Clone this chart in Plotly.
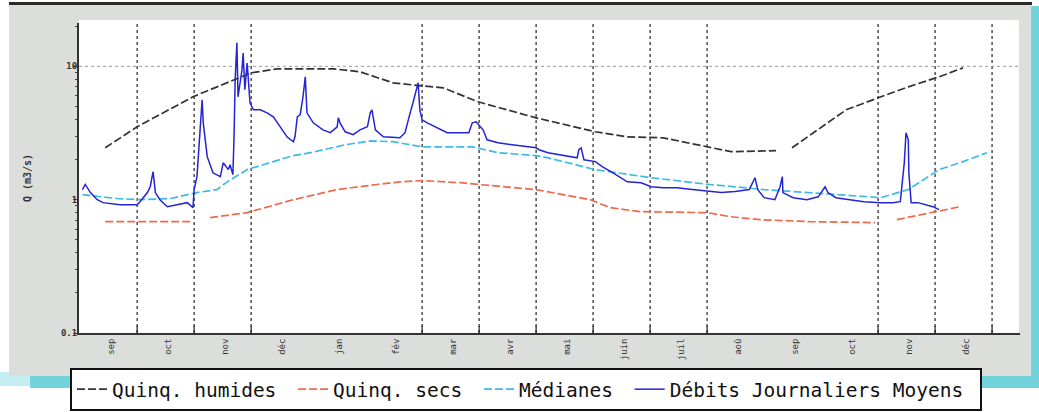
import plotly.graph_objects as go

# ---------------- data ----------------
MONTHS = ["sep", "oct", "nov", "déc", "jan", "fév", "mar", "avr",
          "mai", "juin", "juil", "aoû", "sep", "oct", "nov", "déc"]
GRID_MONTHS = [1, 2, 3, 6, 7, 8, 9, 10, 11, 14, 15, 16]   # month boundaries with a grid line
Y_TICKS = [0.1, 1, 10]
Y_TICKTEXT = ["0.1", "1", "10"]
Y_GRID = [10]

# x positions are in months from the start of the first September
HUM_X = [0.44, 1.00, 1.98, 2.68, 3.00, 3.46, 4.44, 4.91, 5.49, 6.00, 6.37, 6.98, 8.00,
         9.04, 9.60, 10.23, 11.04, 11.42, 12.21, 12.35, 12.49, 12.95, 13.44, 14.05,
         14.53, 15.07, 15.49]
HUM_Y = [2.45, 3.52, 5.91, 7.92, 8.94, 9.58, 9.58, 9.10, 7.52, 7.14, 6.90, 5.42, 4.11,
         3.23, 2.96, 2.91, 2.49, 2.29, 2.33, None, 2.45, 3.34, 4.72, 5.91,
         7.02, 8.34, 9.74]

SEC_X = [0.44, 1.93, 2.10, 2.28, 2.93, 3.74, 4.51, 5.21, 5.61, 6.00, 6.67, 6.98, 8.00,
         8.95, 9.30, 9.82, 11.00, 11.40, 11.93, 12.81, 13.95, 14.14, 14.33, 15.00, 15.44]
SEC_Y = [0.684, 0.684, None, 0.733, 0.799, 1.0, 1.19, 1.30, 1.36, 1.39, 1.34, 1.30, 1.19,
         1.0, 0.871, 0.813, 0.799, 0.746, 0.708, 0.684, 0.673, None, 0.708, 0.813, 0.886]

MED_X = [0.04, 0.35, 0.65, 1.05, 1.58, 2.05, 2.40, 2.58, 2.93, 3.39, 3.74, 4.04, 4.33,
         4.65, 5.09, 5.49, 6.00, 6.88, 7.33, 8.00, 8.21, 9.04, 10.02, 11.04, 12.00,
         13.26, 14.05, 14.53, 15.07, 15.49, 15.91]
MED_Y = [1.09, 1.05, 1.02, 1.00, 1.02, 1.13, 1.19, 1.36, 1.68, 1.93, 2.14, 2.25, 2.41,
         2.58, 2.76, 2.72, 2.49, 2.49, 2.25, 2.14, 2.06, 1.68, 1.46, 1.30, 1.19,
         1.09, 1.035, 1.19, 1.68, 1.93, 2.25]

DEB_X = [0.04, 0.09, 0.18, 0.30, 0.40, 0.70, 1.00, 1.05, 1.18, 1.23, 1.28, 1.32, 1.40,
         1.53, 1.70, 1.88, 1.98, 2.00, 2.05, 2.09, 2.14, 2.16, 2.23, 2.33, 2.46, 2.51,
         2.60, 2.63, 2.68, 2.70, 2.72, 2.75, 2.77, 2.84, 2.86, 2.89, 2.93, 2.98, 3.04,
         3.16, 3.28, 3.39, 3.51, 3.63, 3.74, 3.77, 3.81, 3.86, 3.91, 3.95, 3.98, 4.09,
         4.26, 4.39, 4.51, 4.53, 4.56, 4.65, 4.79, 4.91, 5.04, 5.09, 5.12, 5.18, 5.32,
         5.49, 5.61, 5.70, 5.74, 5.79, 5.84, 5.91, 5.93, 5.96, 6.00, 6.09, 6.26, 6.44,
         6.67, 6.82, 6.88, 6.95, 7.02, 7.07, 7.14, 7.33, 7.58, 8.00, 8.05, 8.21, 8.72,
         8.75, 8.79, 8.84, 9.04, 9.16, 9.35, 9.60, 9.84, 10.02, 10.23, 10.47, 10.74,
         11.04, 11.25, 11.49, 11.74, 11.84, 11.89, 12.00, 12.19, 12.28, 12.32, 12.33,
         12.51, 12.75, 12.95, 13.07, 13.12, 13.26, 13.51, 13.75, 14.05, 14.26, 14.39,
         14.46, 14.49, 14.53, 14.54, 14.58, 14.70, 14.96, 15.07]
DEB_Y = [1.19, 1.30, 1.13, 1.0, 0.95, 0.917, 0.917, 0.966, 1.13, 1.25, 1.62, 1.13, 1.0,
         0.886, 0.917, 0.95, 0.871, 1.19, 1.49, 2.81, 5.61, 3.77, 2.10, 1.59, 1.49, 1.89,
         1.68, 1.83, 1.54, 2.96, 7.92, 15.0, 5.91, 9.42, 12.6, 6.67, 10.6, 5.33, 4.72,
         4.72, 4.48, 4.18, 3.52, 2.96, 2.72, 2.96, 4.18, 4.33, 5.91, 8.34, 4.48, 3.77,
         3.34, 3.18, 3.52, 4.11, 3.77, 3.23, 3.07, 3.34, 3.52, 4.48, 4.72, 3.34, 2.96,
         2.91, 2.91, 3.18, 3.77, 4.48, 5.33, 7.02, 7.52, 4.72, 3.97, 3.77, 3.46, 3.18,
         3.18, 3.18, 3.77, 3.84, 3.52, 3.34, 2.81, 2.67, 2.58, 2.45, 2.37, 2.25, 2.06,
         2.37, 2.45, 1.99, 1.93, 1.77, 1.59, 1.36, 1.34, 1.25, 1.23, 1.23, 1.19,
         1.15, 1.13, 1.15, 1.19, 1.46, 1.19, 1.035, 1.0, 1.25, 1.49, 1.13,
         1.035, 1.0, 1.05, 1.25, 1.13, 1.035, 1.0, 0.966, 0.95, 0.95, 0.966,
         1.89, 3.18, 2.81, 1.59, 0.95, 0.95, 0.886, 0.841]

# ---------------- layout geometry (pixels) ----------------
W, H = 1039, 412
L, R, T, B = 79, 1020, 23, 333
X_RANGE = [-0.02, 16.49]
Y_RANGE = [-1.0, 1.325]
FONT = "DejaVu Sans Mono"


def paper_x(p):
    return (p - L) / (R - L)


def paper_y(p):
    return (B - p) / (B - T)


def rect(x0, y0, x1, y1, color):
    return dict(type="rect", xref="paper", yref="paper", layer="below",
                x0=paper_x(x0), x1=paper_x(x1), y0=paper_y(y1), y1=paper_y(y0),
                fillcolor=color, line=dict(width=0))


fig = go.Figure()
fig.add_trace(go.Scatter(x=HUM_X, y=HUM_Y, mode="lines", name="Quinq. humides\u00a0",
                         line=dict(color="#333333", width=1.7, dash="8px,3px")))
fig.add_trace(go.Scatter(x=SEC_X, y=SEC_Y, mode="lines", name="Quinq. secs\u00a0",
                         line=dict(color="#ef6a4c", width=1.7, dash="8px,3px")))
fig.add_trace(go.Scatter(x=MED_X, y=MED_Y, mode="lines", name="Médianes\u00a0",
                         line=dict(color="#3dbbe8", width=1.7, dash="8px,3px")))
fig.add_trace(go.Scatter(x=DEB_X, y=DEB_Y, mode="lines", name="Débits Journaliers Moyens\u00a0",
                         line=dict(color="#2424d4", width=1.5)))

shapes = [
    rect(0, 372, 30, 386, "#c4eef2"),
    rect(30, 372, 1039, 388, "#72d3dc"),
    rect(1030, 6, 1039, 388, "#72d3dc"),
    rect(9, 5, 1031, 376, "#dcdedc"),
    rect(9, 2, 1032, 5, "#2a2a2a"),
    rect(79, 20, 1019, 333, "#ffffff"),
    rect(75, 373, 982, 409, "#8c8c8c"),
]
# dotted grid lines: month boundaries (vertical) and the 10 m3/s level (horizontal)
for m in GRID_MONTHS:
    shapes.append(dict(type="line", xref="x", yref="paper", layer="below",
                       x0=m, x1=m, y0=0, y1=1,
                       line=dict(color="#222222", width=1.2, dash="dot")))
    shapes.append(dict(type="line", xref="x", yref="paper", layer="below",
                       x0=m, x1=m, y0=0, y1=7 / (B - T),
                       line=dict(color="#222222", width=1.2)))
for g in Y_GRID:
    shapes.append(dict(type="line", xref="paper", yref="y", layer="below",
                       x0=0, x1=1, y0=g, y1=g,
                       line=dict(color="#9a9a9a", width=1, dash="dot")))

fig.update_layout(
    width=W, height=H,
    margin=dict(l=L, r=W - R, t=T, b=H - B, autoexpand=False),
    paper_bgcolor="#ffffff",
    plot_bgcolor="rgba(0,0,0,0)",
    font=dict(family=FONT, color="#333333"),
    shapes=shapes,
    showlegend=True,
    legend=dict(orientation="h", x=paper_x(70), y=paper_y(368), xanchor="left", yanchor="top",
                bgcolor="#ffffff", bordercolor="#111111", borderwidth=2, itemwidth=30,
                font=dict(family=FONT, size=19.5, color="#111111")),
    xaxis=dict(range=X_RANGE, tickmode="array", tickvals=[i + 0.55 for i in range(len(MONTHS))],
               ticktext=MONTHS, tickangle=-90, ticks="", showgrid=False, zeroline=False,
               showline=True, linecolor="#333333", linewidth=2,
               tickfont=dict(family=FONT, size=9, color="#333333")),
    yaxis=dict(type="log", range=Y_RANGE, tickmode="array", tickvals=Y_TICKS, ticktext=Y_TICKTEXT,
               ticks="outside", ticklen=4, tickcolor="#333333", showgrid=False, zeroline=False,
               showline=True, linecolor="#333333", linewidth=2, ticklabelstandoff=-6,
               minor=dict(ticks="outside", ticklen=2, tickcolor="#444444", tickmode="linear",
                          dtick="D1", showgrid=False),
               tickfont=dict(family=FONT, size=9, color="#333333", weight="bold"),
               title=dict(text="Q (m3/s)", standoff=27,
                          font=dict(family=FONT, size=10, color="#333333", weight="bold"))),
)

fig.write_html("out.html", config={"displayModeBar": False},
               post_script="document.body.style.margin='0px';")
